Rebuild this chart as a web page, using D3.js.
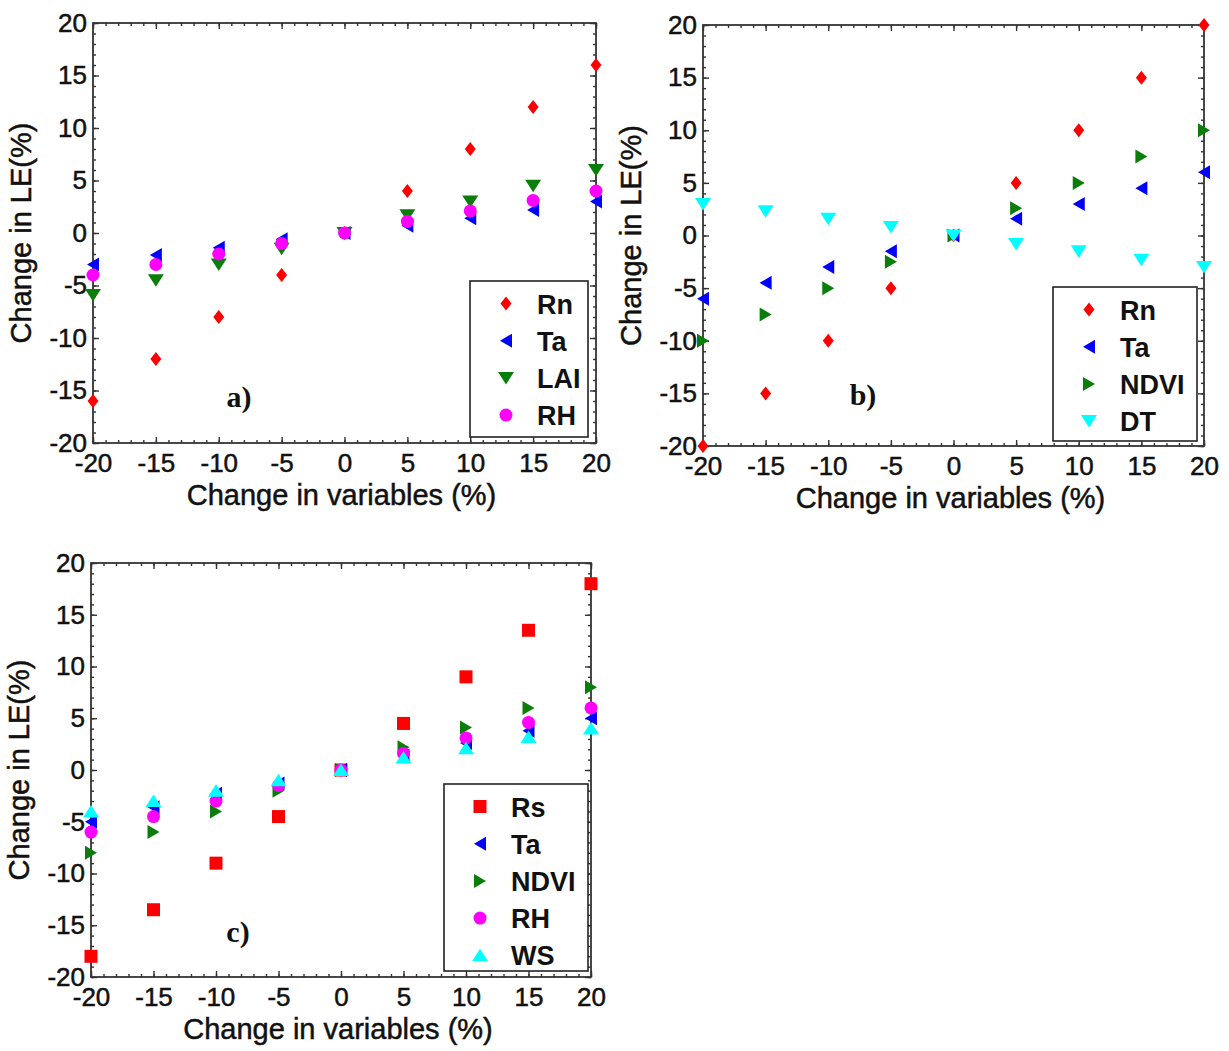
<!DOCTYPE html>
<html>
<head>
<meta charset="utf-8">
<script src="https://cdn.jsdelivr.net/npm/d3@7"></script>
<style>
  body { margin: 0; background: #fff; }
  text { font-family: "Liberation Sans", Arial, sans-serif; fill: #111; }
</style>
</head>
<body>
<svg id="chart" width="1229" height="1051"></svg>
<script>
// change applied to each input variable (%)
const changes = [-20, -15, -10, -5, 0, 5, 10, 15, 20];
const tickValues = [-20, -15, -10, -5, 0, 5, 10, 15, 20];

// panel a) change in LE (%)
const rnA = [-16, -12, -8, -4, 0, 4, 8, 12, 16];
const taA = [-3, -2.1, -1.4, -0.6, 0, 0.7, 1.4, 2.2, 3];
const laiA = [-5.9, -4.5, -3, -1.5, 0, 1.7, 3, 4.5, 6];
const rhA = [-4, -3, -2, -1, 0, 1.1, 2.1, 3.1, 4];

// panel b)
const rnB = [-20, -15, -10, -5, 0, 5, 10, 15, 20];
const taB = [-6, -4.5, -3, -1.5, 0, 1.6, 3, 4.5, 6];
const ndviB = [-10, -7.5, -5, -2.5, 0, 2.6, 5, 7.5, 10];
const dtB = [3, 2.3, 1.6, 0.8, 0, -0.8, -1.5, -2.3, -3];

// panel c)
const rsC = [-18, -13.5, -9, -4.5, 0, 4.5, 9, 13.5, 18];
const taC = [-5, -3.6, -2.3, -1.3, 0, 1.4, 2.6, 3.8, 5];
const ndviC = [-8, -6, -4, -2, 0, 2.2, 4.1, 6, 8];
const rhC = [-6, -4.5, -3, -1.5, 0, 1.6, 3.1, 4.6, 6];
const wsC = [-4, -3, -2, -1, 0, 1.2, 2.1, 3.2, 4];

// marker style per variable
const styles = {
  Rn: { color: "#ff0000", shape: "diamond" },
  Rs: { color: "#ff0000", shape: "square" },
  Ta: { color: "#0000ff", shape: "left" },
  LAI: { color: "#0b7d0b", shape: "down" },
  NDVI: { color: "#0b7d0b", shape: "right" },
  RH: { color: "#ff00ff", shape: "circle" },
  DT: { color: "#00ffff", shape: "down" },
  WS: { color: "#00ffff", shape: "up" }
};

const panels = [
  {
    tag: "a)", tagPos: [239, 407],
    box: { left: 93, right: 596, top: 23, bottom: 443 },
    legend: { x0: 470, x1: 588, y0: 281, y1: 437 },
    series: [["Rn", rnA], ["Ta", taA], ["LAI", laiA], ["RH", rhA]]
  },
  {
    tag: "b)", tagPos: [863, 405],
    box: { left: 703, right: 1204, top: 25, bottom: 446 },
    legend: { x0: 1053, x1: 1197, y0: 287, y1: 441 },
    series: [["Rn", rnB], ["Ta", taB], ["NDVI", ndviB], ["DT", dtB]]
  },
  {
    tag: "c)", tagPos: [238, 942],
    box: { left: 91, right: 591, top: 563, bottom: 977 },
    legend: { x0: 444, x1: 588, y0: 784, y1: 971 },
    series: [["Rs", rsC], ["Ta", taC], ["NDVI", ndviC], ["RH", rhC], ["WS", wsC]]
  }
];

const svg = d3.select("#chart");

function shapePath(shape) {
  switch (shape) {
    case "diamond": return "M0,-7L5.5,0L0,7L-5.5,0Z";
    case "square": return "M-6.5,-6.5H6.5V6.5H-6.5Z";
    case "left": return "M-6,0L6,-7L6,7Z";
    case "right": return "M6,0L-6,-7L-6,7Z";
    case "down": return "M-8,-6L8,-6L0,6.5Z";
    case "up": return "M-8,6L8,6L0,-6.5Z";
    case "circle": return "M-6.5,0A6.5,6.5 0 1,0 6.5,0A6.5,6.5 0 1,0 -6.5,0Z";
  }
}

function translate(x, y) {
  return "translate(" + x + "," + y + ")";
}

// plain hyphen for negatives, like the original figure
const fmt = d => String(d);

function drawPanel(p) {
  const b = p.box;
  const g = svg.append("g");

  const x = d3.scaleLinear().domain([-20, 20]).range([b.left, b.right]);
  const y = d3.scaleLinear().domain([-20, 20]).range([b.bottom, b.top]);
  const minor = x.ticks(40);

  // minor ticks on all four sides (inward)
  const minorAxes = [
    [d3.axisBottom(x), translate(0, b.bottom)],
    [d3.axisTop(x), translate(0, b.top)],
    [d3.axisLeft(y), translate(b.left, 0)],
    [d3.axisRight(y), translate(b.right, 0)]
  ];
  minorAxes.forEach(function(m) {
    g.append("g")
      .attr("transform", m[1])
      .call(m[0].tickValues(minor).tickSize(-3).tickFormat(""))
      .call(a => a.select(".domain").remove())
      .call(a => a.selectAll("line").attr("stroke", "#333").attr("stroke-width", 1.2));
  });

  // major ticks with labels
  const xAxis = g.append("g")
    .attr("transform", translate(0, b.bottom))
    .call(d3.axisBottom(x).tickValues(tickValues).tickSize(-6).tickPadding(11).tickFormat(fmt));
  const yAxis = g.append("g")
    .attr("transform", translate(b.left, 0))
    .call(d3.axisLeft(y).tickValues(tickValues).tickSize(-6).tickPadding(6).tickFormat(fmt));
  g.append("g")
    .attr("transform", translate(0, b.top))
    .call(d3.axisTop(x).tickValues(tickValues).tickSize(-6).tickFormat(""));
  g.append("g")
    .attr("transform", translate(b.right, 0))
    .call(d3.axisRight(y).tickValues(tickValues).tickSize(-6).tickFormat(""));

  g.selectAll(".domain").remove();
  g.selectAll(".tick line").attr("stroke", "#333").attr("stroke-width", 1.4);
  [xAxis, yAxis].forEach(function(ax) {
    ax.selectAll("text")
      .attr("fill", "#111")
      .attr("stroke", "#111")
      .attr("stroke-width", 0.5)
      .style("font-family", "'Liberation Sans', Arial, sans-serif")
      .style("font-size", "26px");
  });

  // frame
  g.append("rect")
    .attr("x", b.left).attr("y", b.top)
    .attr("width", b.right - b.left).attr("height", b.bottom - b.top)
    .attr("fill", "none").attr("stroke", "#333").attr("stroke-width", 1.8);

  // axis titles
  g.append("text")
    .attr("x", (b.left + b.right) / 2 - 3)
    .attr("y", b.bottom + 62)
    .attr("text-anchor", "middle")
    .attr("stroke", "#111").attr("stroke-width", 0.5)
    .style("font-size", "29px")
    .text("Change in variables (%)");

  g.append("text")
    .attr("transform", translate(b.left - 62, (b.top + b.bottom) / 2) + " rotate(-90)")
    .attr("text-anchor", "middle")
    .attr("stroke", "#111").attr("stroke-width", 0.5)
    .style("font-size", "29px")
    .text("Change in LE(%)");

  // panel tag
  g.append("text")
    .attr("x", p.tagPos[0]).attr("y", p.tagPos[1])
    .attr("text-anchor", "middle")
    .style("font-family", "'Liberation Serif', 'Times New Roman', serif")
    .style("font-weight", "bold")
    .style("font-size", "30px")
    .text(p.tag);

  // legend box
  const L = p.legend;
  g.append("rect")
    .attr("x", L.x0).attr("y", L.y0)
    .attr("width", L.x1 - L.x0).attr("height", L.y1 - L.y0)
    .attr("fill", "#fff").attr("stroke", "#222").attr("stroke-width", 1.6);

  // data points
  p.series.forEach(function(s) {
    const st = styles[s[0]];
    g.append("g").selectAll("path")
      .data(s[1].map((v, i) => ({ x: changes[i], y: v })))
      .join("path")
      .attr("transform", d => translate(x(d.x), y(d.y)))
      .attr("d", shapePath(st.shape))
      .attr("fill", st.color);
  });

  // legend entries
  p.series.forEach(function(s, i) {
    const st = styles[s[0]];
    const yy = L.y0 + 22.5 + i * 37.2;
    g.append("path")
      .attr("transform", translate(L.x0 + 36, yy))
      .attr("d", shapePath(st.shape))
      .attr("fill", st.color);
    g.append("text")
      .attr("x", L.x0 + 67)
      .attr("y", yy + 10)
      .style("font-size", "27px")
      .style("font-weight", "bold")
      .text(s[0]);
  });
}

panels.forEach(drawPanel);
</script>
</body>
</html>
